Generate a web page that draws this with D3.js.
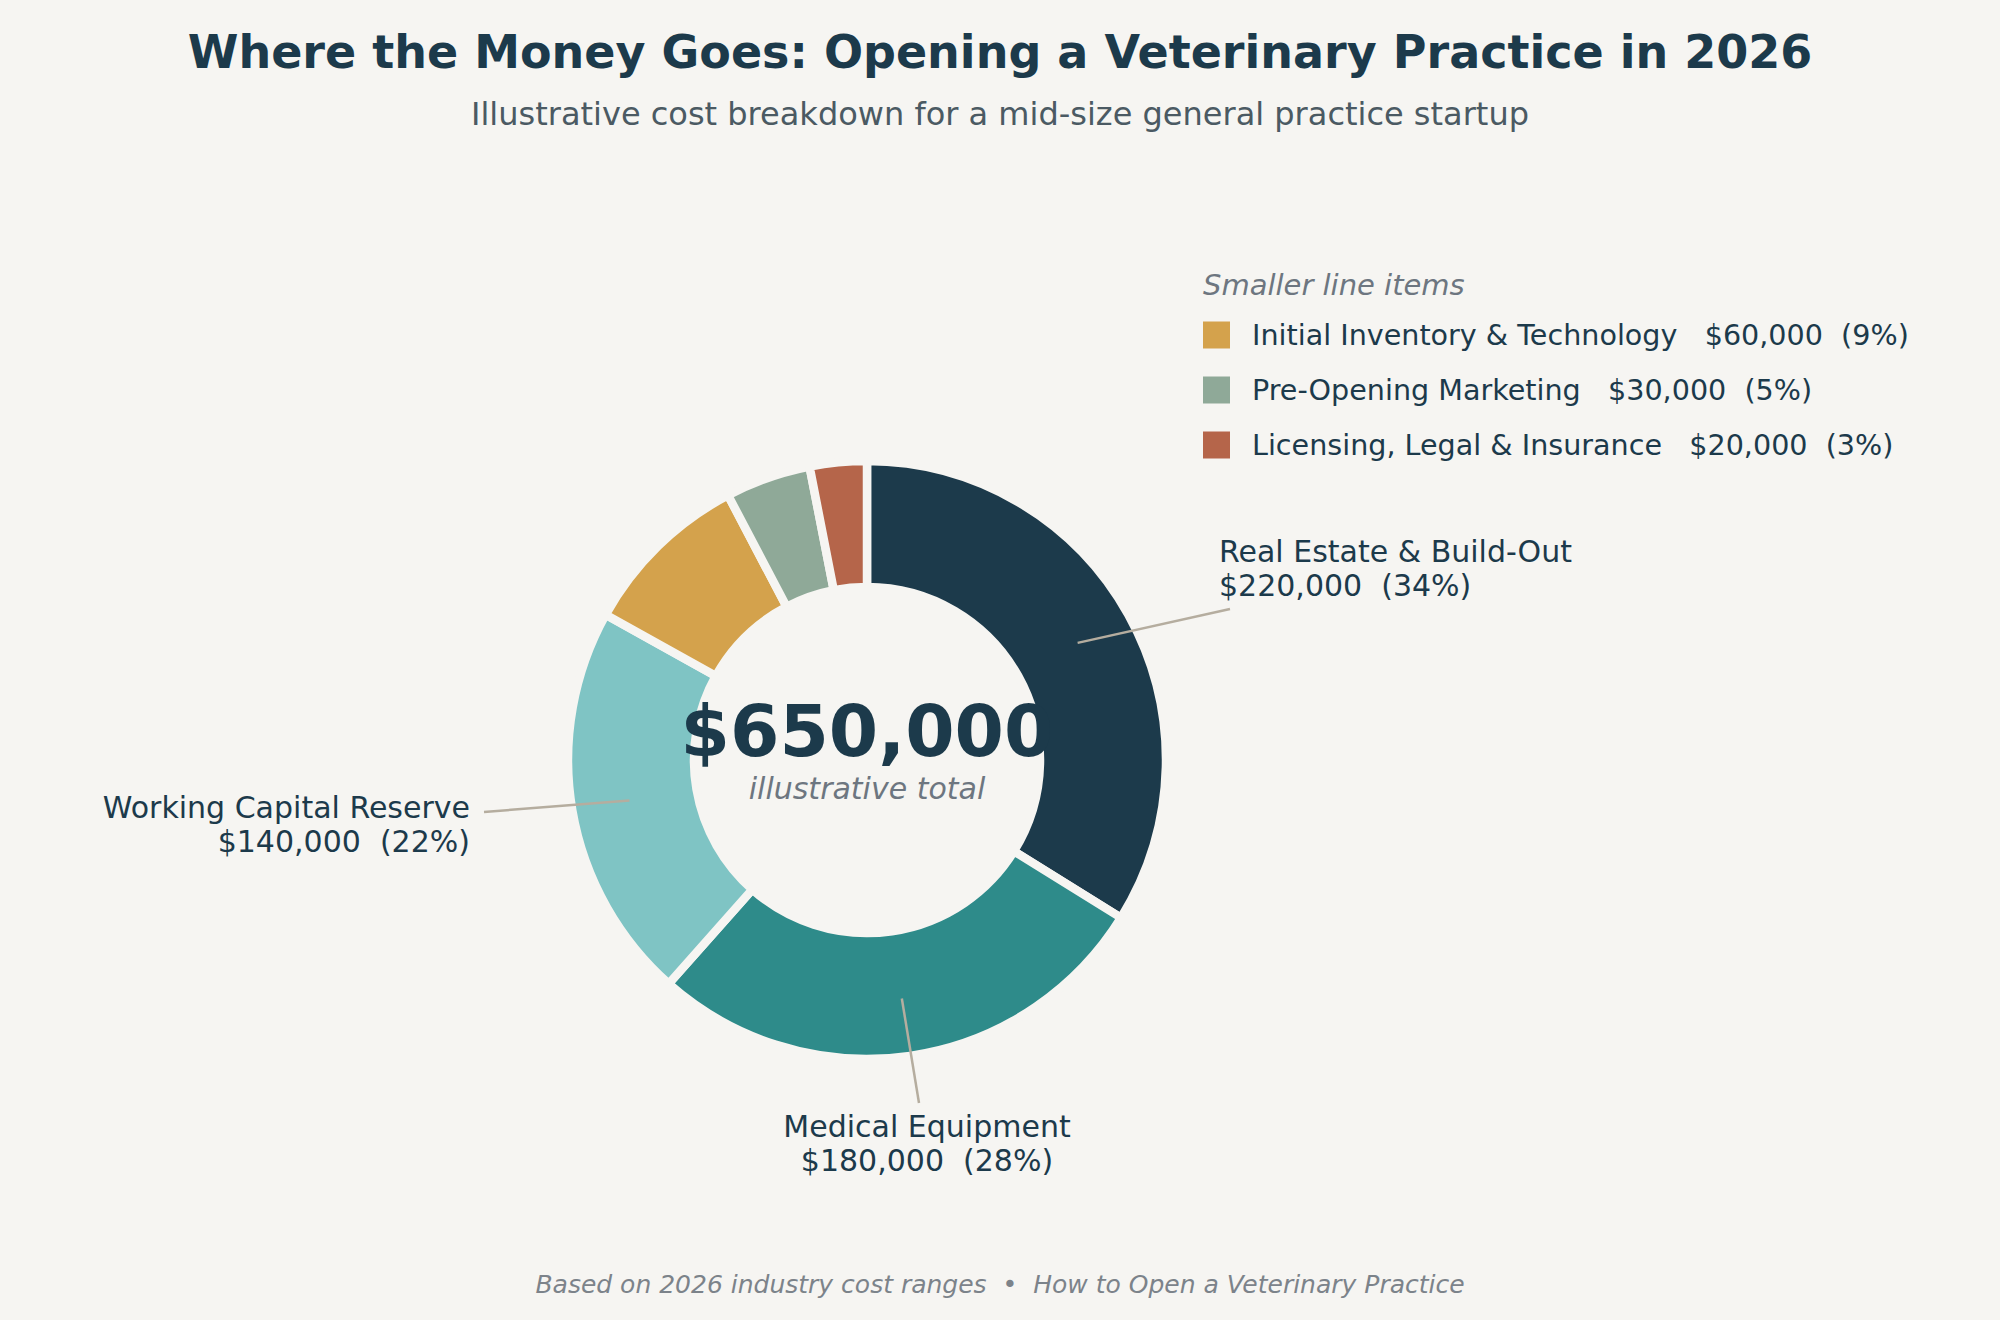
<!DOCTYPE html>
<html lang="en">
<head>
    <meta charset="UTF-8">
    <title>Where the Money Goes: Opening a Veterinary Practice in 2026</title>
    <style>
        html, body { margin: 0; padding: 0; background: #f6f5f2; }
        svg { display: block; font-family: "DejaVu Sans", sans-serif; }
        text { white-space: pre; }
    </style>
</head>
<body>
    <svg id="chart" width="2000" height="1320"></svg>
    <script src="https://cdn.jsdelivr.net/npm/d3@7/dist/d3.min.js"></script>
    <script>
    // data
    const categories = [
        "Real Estate & Build-Out",
        "Medical Equipment",
        "Working Capital Reserve",
        "Initial Inventory & Technology",
        "Pre-Opening Marketing",
        "Licensing, Legal & Insurance"
    ];
    const costs = [220000, 180000, 140000, 60000, 30000, 20000];
    const sliceColors = ["#1c3a4b", "#2e8b8a", "#7fc4c4", "#d4a24c", "#8fa998", "#b5654a"];
    // first three get callouts, the rest go to the side legend
    const calloutCount = 3;

    const title = "Where the Money Goes: Opening a Veterinary Practice in 2026";
    const subtitle = "Illustrative cost breakdown for a mid-size general practice startup";
    const centerLabel = "illustrative total";
    const legendTitle = "Smaller line items";
    const footer = "Based on 2026 industry cost ranges  \u2022  How to Open a Veterinary Practice";

    // layout
    const W = 2000, H = 1320;
    const cx = 867, cy = 760;
    const outerR = 299, innerR = 173, leaderR = 241;
    const ink = "#1c3a4b", bg = "#f6f5f2";
    // callout text anchors, relative to donut centre
    const callouts = [
        { end: [363, -151], text: [352, -198], anchor: "start" },
        { end: [52, 343],   text: [60, 377],   anchor: "middle" },
        { end: [-383, 52],  text: [-397, 58],  anchor: "end" }
    ];

    const total = d3.sum(costs);
    const money = d3.format("$,.0f");
    const pct = v => Math.round(v / total * 100) + "%";

    const svg = d3.select("#chart");
    svg.append("rect").attr("width", W).attr("height", H).attr("fill", bg);

    svg.append("text")
        .attr("x", 1000).attr("y", 68)
        .attr("text-anchor", "middle")
        .attr("font-size", 46).attr("font-weight", "bold")
        .attr("fill", ink)
        .text(title);

    svg.append("text")
        .attr("x", 1000).attr("y", 125)
        .attr("text-anchor", "middle")
        .attr("font-size", 32)
        .attr("fill", "#4b5a63")
        .text(subtitle);

    // donut
    const pie = d3.pie().sort(null).value(d => d);
    const arcs = pie(costs);
    const arc = d3.arc().innerRadius(innerR).outerRadius(outerR);
    const g = svg.append("g").attr("transform", `translate(${cx},${cy})`);

    g.selectAll("path.slice")
        .data(arcs)
        .join("path")
        .attr("class", "slice")
        .attr("d", arc)
        .attr("fill", (d, i) => sliceColors[i])
        .attr("stroke", bg)
        .attr("stroke-width", 8.5)
        .attr("stroke-linejoin", "miter");

    g.append("text")
        .attr("x", 0).attr("y", -4)
        .attr("text-anchor", "middle")
        .attr("font-size", 71).attr("font-weight", "bold")
        .attr("fill", ink)
        .text(money(total));

    g.append("text")
        .attr("x", 0).attr("y", 39)
        .attr("text-anchor", "middle")
        .attr("font-size", 30).attr("font-style", "italic")
        .attr("fill", "#6d7680")
        .text(centerLabel);

    // callouts for the big slices
    const midPoint = d3.arc().innerRadius(leaderR).outerRadius(leaderR);
    arcs.slice(0, calloutCount).forEach((a, i) => {
        const c = callouts[i];
        const p = midPoint.centroid(a);
        g.append("line")
            .attr("x1", p[0]).attr("y1", p[1])
            .attr("x2", c.end[0]).attr("y2", c.end[1])
            .attr("stroke", "#b5ad9f").attr("stroke-width", 2.5);
        const t = g.append("text")
            .attr("text-anchor", c.anchor)
            .attr("font-size", 30)
            .attr("fill", ink);
        t.append("tspan").attr("x", c.text[0]).attr("y", c.text[1]).text(categories[i]);
        t.append("tspan").attr("x", c.text[0]).attr("y", c.text[1] + 34)
            .text(money(costs[i]) + "  (" + pct(costs[i]) + ")");
    });

    // legend for smaller items
    const lx = 1203, ly = 295, rowH = 55;
    const legend = svg.append("g");
    legend.append("text")
        .attr("x", lx).attr("y", ly)
        .attr("font-size", 29).attr("font-style", "italic")
        .attr("fill", "#6d7680")
        .text(legendTitle);

    const small = d3.range(calloutCount, categories.length);
    const rows = legend.selectAll("g.row")
        .data(small)
        .join("g")
        .attr("class", "row")
        .attr("transform", (d, k) => `translate(${lx},${ly + 40 + k * rowH})`);
    rows.append("rect")
        .attr("x", 0).attr("y", -13.5)
        .attr("width", 27).attr("height", 27)
        .attr("fill", d => sliceColors[d]);
    rows.append("text")
        .attr("x", 49).attr("y", 9.5)
        .attr("font-size", 28.6)
        .attr("fill", ink)
        .text(d => categories[d] + "   " + money(costs[d]) + "  (" + pct(costs[d]) + ")");

    svg.append("text")
        .attr("x", 1000).attr("y", 1293)
        .attr("text-anchor", "middle")
        .attr("font-size", 25).attr("font-style", "italic")
        .attr("fill", "#7c838a")
        .text(footer);
    </script>
</body>
</html>
